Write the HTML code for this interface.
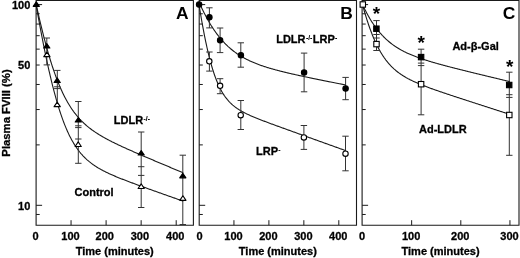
<!DOCTYPE html>
<html><head><meta charset="utf-8"><style>
html,body{margin:0;padding:0;background:#fff;}
body{width:520px;height:258px;overflow:hidden;}
svg{display:block;filter:blur(0.3px);}
.t{font-family:"Liberation Sans", Arial, Helvetica, sans-serif;font-weight:bold;font-size:11px;fill:#000;stroke:#000;stroke-width:0.3px;}
.yl{font-size:11.3px;}
.sup{font-size:6.8px;stroke-width:0.1px;}
.big{font-family:"Liberation Sans", Arial, Helvetica, sans-serif;font-weight:bold;font-size:17.4px;fill:#000;}
.star{font-family:"Liberation Sans", Arial, Helvetica, sans-serif;font-weight:bold;font-size:19px;fill:#000;}
</style></head><body>
<svg width="520" height="258" viewBox="0 0 520 258">
<path d="M36.1,225.2 V0.5 H193.4 V225.2 Z" fill="none" stroke="#1a1a1a" stroke-width="1.1"/>
<line x1="36.1" y1="214.48" x2="39.7" y2="214.48" stroke="#1a1a1a" stroke-width="1"/>
<line x1="36.1" y1="205.30" x2="42.1" y2="205.30" stroke="#1a1a1a" stroke-width="1"/>
<line x1="36.1" y1="144.88" x2="39.7" y2="144.88" stroke="#1a1a1a" stroke-width="1"/>
<line x1="36.1" y1="109.54" x2="39.7" y2="109.54" stroke="#1a1a1a" stroke-width="1"/>
<line x1="36.1" y1="84.47" x2="39.7" y2="84.47" stroke="#1a1a1a" stroke-width="1"/>
<line x1="36.1" y1="65.02" x2="39.7" y2="65.02" stroke="#1a1a1a" stroke-width="1"/>
<line x1="36.1" y1="49.13" x2="39.7" y2="49.13" stroke="#1a1a1a" stroke-width="1"/>
<line x1="36.1" y1="35.69" x2="39.7" y2="35.69" stroke="#1a1a1a" stroke-width="1"/>
<line x1="36.1" y1="24.05" x2="39.7" y2="24.05" stroke="#1a1a1a" stroke-width="1"/>
<line x1="36.1" y1="13.78" x2="39.7" y2="13.78" stroke="#1a1a1a" stroke-width="1"/>
<line x1="36.1" y1="4.60" x2="42.1" y2="4.60" stroke="#1a1a1a" stroke-width="1"/>
<text x="35.50" y="239.7" text-anchor="middle" class="t">0</text>
<line x1="71.05" y1="225.2" x2="71.05" y2="220.2" stroke="#1a1a1a" stroke-width="1"/>
<text x="70.55" y="239.7" text-anchor="middle" class="t">100</text>
<line x1="106.10" y1="225.2" x2="106.10" y2="220.2" stroke="#1a1a1a" stroke-width="1"/>
<text x="104.80" y="239.7" text-anchor="middle" class="t">200</text>
<line x1="141.15" y1="225.2" x2="141.15" y2="220.2" stroke="#1a1a1a" stroke-width="1"/>
<text x="139.85" y="239.7" text-anchor="middle" class="t">300</text>
<line x1="176.20" y1="225.2" x2="176.20" y2="220.2" stroke="#1a1a1a" stroke-width="1"/>
<text x="175.30" y="239.7" text-anchor="middle" class="t">400</text>
<text x="114.75" y="255.2" text-anchor="middle" class="t">Time (minutes)</text>
<text x="182.4" y="18.8" text-anchor="middle" class="big">A</text>
<path d="M199.2,225.2 V0.5 H356.5 V225.2 Z" fill="none" stroke="#1a1a1a" stroke-width="1.1"/>
<line x1="199.2" y1="214.48" x2="202.79999999999998" y2="214.48" stroke="#1a1a1a" stroke-width="1"/>
<line x1="199.2" y1="205.30" x2="205.2" y2="205.30" stroke="#1a1a1a" stroke-width="1"/>
<line x1="199.2" y1="144.88" x2="202.79999999999998" y2="144.88" stroke="#1a1a1a" stroke-width="1"/>
<line x1="199.2" y1="109.54" x2="202.79999999999998" y2="109.54" stroke="#1a1a1a" stroke-width="1"/>
<line x1="199.2" y1="84.47" x2="202.79999999999998" y2="84.47" stroke="#1a1a1a" stroke-width="1"/>
<line x1="199.2" y1="65.02" x2="202.79999999999998" y2="65.02" stroke="#1a1a1a" stroke-width="1"/>
<line x1="199.2" y1="49.13" x2="202.79999999999998" y2="49.13" stroke="#1a1a1a" stroke-width="1"/>
<line x1="199.2" y1="35.69" x2="202.79999999999998" y2="35.69" stroke="#1a1a1a" stroke-width="1"/>
<line x1="199.2" y1="24.05" x2="202.79999999999998" y2="24.05" stroke="#1a1a1a" stroke-width="1"/>
<line x1="199.2" y1="13.78" x2="202.79999999999998" y2="13.78" stroke="#1a1a1a" stroke-width="1"/>
<line x1="199.2" y1="4.60" x2="205.2" y2="4.60" stroke="#1a1a1a" stroke-width="1"/>
<text x="199.50" y="239.7" text-anchor="middle" class="t">0</text>
<line x1="233.95" y1="225.2" x2="233.95" y2="220.2" stroke="#1a1a1a" stroke-width="1"/>
<text x="233.45" y="239.7" text-anchor="middle" class="t">100</text>
<line x1="268.90" y1="225.2" x2="268.90" y2="220.2" stroke="#1a1a1a" stroke-width="1"/>
<text x="268.40" y="239.7" text-anchor="middle" class="t">200</text>
<line x1="303.85" y1="225.2" x2="303.85" y2="220.2" stroke="#1a1a1a" stroke-width="1"/>
<text x="303.35" y="239.7" text-anchor="middle" class="t">300</text>
<line x1="338.80" y1="225.2" x2="338.80" y2="220.2" stroke="#1a1a1a" stroke-width="1"/>
<text x="338.30" y="239.7" text-anchor="middle" class="t">400</text>
<text x="277.85" y="255.2" text-anchor="middle" class="t">Time (minutes)</text>
<text x="346.5" y="18.8" text-anchor="middle" class="big">B</text>
<path d="M362.1,225.2 V0.5 H519 V225.2 Z" fill="none" stroke="#1a1a1a" stroke-width="1.1"/>
<line x1="362.1" y1="214.48" x2="365.70000000000005" y2="214.48" stroke="#1a1a1a" stroke-width="1"/>
<line x1="362.1" y1="205.30" x2="368.1" y2="205.30" stroke="#1a1a1a" stroke-width="1"/>
<line x1="362.1" y1="144.88" x2="365.70000000000005" y2="144.88" stroke="#1a1a1a" stroke-width="1"/>
<line x1="362.1" y1="109.54" x2="365.70000000000005" y2="109.54" stroke="#1a1a1a" stroke-width="1"/>
<line x1="362.1" y1="84.47" x2="365.70000000000005" y2="84.47" stroke="#1a1a1a" stroke-width="1"/>
<line x1="362.1" y1="65.02" x2="365.70000000000005" y2="65.02" stroke="#1a1a1a" stroke-width="1"/>
<line x1="362.1" y1="49.13" x2="365.70000000000005" y2="49.13" stroke="#1a1a1a" stroke-width="1"/>
<line x1="362.1" y1="35.69" x2="365.70000000000005" y2="35.69" stroke="#1a1a1a" stroke-width="1"/>
<line x1="362.1" y1="24.05" x2="365.70000000000005" y2="24.05" stroke="#1a1a1a" stroke-width="1"/>
<line x1="362.1" y1="13.78" x2="365.70000000000005" y2="13.78" stroke="#1a1a1a" stroke-width="1"/>
<line x1="362.1" y1="4.60" x2="368.1" y2="4.60" stroke="#1a1a1a" stroke-width="1"/>
<text x="362.00" y="239.7" text-anchor="middle" class="t">0</text>
<line x1="411.65" y1="225.2" x2="411.65" y2="220.2" stroke="#1a1a1a" stroke-width="1"/>
<text x="411.15" y="239.7" text-anchor="middle" class="t">100</text>
<line x1="460.80" y1="225.2" x2="460.80" y2="220.2" stroke="#1a1a1a" stroke-width="1"/>
<text x="460.30" y="239.7" text-anchor="middle" class="t">200</text>
<line x1="509.95" y1="225.2" x2="509.95" y2="220.2" stroke="#1a1a1a" stroke-width="1"/>
<text x="509.45" y="239.7" text-anchor="middle" class="t">300</text>
<text x="440.55" y="255.2" text-anchor="middle" class="t">Time (minutes)</text>
<text x="509" y="19.1" text-anchor="middle" class="big">C</text>
<path d="M36.00,4.25 L36.62,7.75 L37.23,11.21 L37.85,14.65 L38.46,18.05 L39.08,21.42 L39.70,24.76 L40.31,28.06 L40.93,31.33 L41.54,34.56 L42.16,37.75 L42.78,40.91 L43.39,44.03 L44.01,47.11 L44.62,50.15 L45.24,53.15 L45.86,56.11 L46.47,59.03 L47.09,61.91 L47.70,64.74 L48.32,67.53 L48.93,70.27 L49.55,72.97 L50.17,75.62 L50.78,78.23 L51.40,80.80 L52.01,83.31 L52.63,85.78 L53.25,88.20 L53.86,90.58 L54.48,92.91 L55.09,95.19 L55.71,97.42 L56.33,99.61 L56.94,101.75 L57.56,103.84 L58.17,105.89 L58.79,107.89 L59.41,109.84 L60.02,111.74 L60.64,113.60 L61.25,115.42 L61.87,117.19 L62.49,118.91 L63.10,120.59 L63.72,122.23 L64.33,123.83 L64.95,125.38 L65.57,126.89 L66.18,128.36 L66.80,129.80 L67.41,131.19 L68.03,132.54 L68.64,133.86 L69.26,135.14 L69.88,136.38 L70.49,137.58 L71.11,138.76 L71.72,139.90 L72.34,141.00 L72.96,142.08 L73.57,143.12 L74.19,144.13 L74.80,145.12 L75.42,146.07 L76.04,147.00 L76.65,147.90 L77.27,148.77 L77.88,149.62 L78.50,150.45 L79.12,151.25 L79.73,152.03 L80.35,152.78 L80.96,153.52 L81.58,154.23 L82.20,154.92 L82.81,155.60 L83.43,156.26 L84.04,156.89 L84.66,157.51 L85.28,158.12 L85.89,158.71 L86.51,159.28 L87.12,159.84 L87.74,160.38 L88.36,160.91 L88.97,161.43 L89.59,161.93 L90.20,162.42 L90.82,162.90 L91.43,163.37 L92.05,163.83 L92.67,164.28 L93.28,164.72 L93.90,165.14 L94.51,165.56 L95.13,165.97 L95.75,166.37 L96.36,166.77 L96.98,167.16 L97.59,167.53 L98.21,167.91 L98.83,168.27 L99.44,168.63 L100.06,168.98 L100.67,169.33 L101.29,169.67 L101.91,170.00 L102.52,170.33 L103.14,170.66 L103.75,170.98 L104.37,171.29 L104.99,171.60 L105.60,171.91 L106.22,172.21 L106.83,172.51 L107.45,172.81 L108.07,173.10 L108.68,173.39 L109.30,173.67 L109.91,173.96 L110.53,174.24 L111.14,174.51 L111.76,174.79 L112.38,175.06 L112.99,175.33 L113.61,175.59 L114.22,175.86 L114.84,176.12 L115.46,176.38 L116.07,176.64 L116.69,176.89 L117.30,177.15 L117.92,177.40 L118.54,177.65 L119.15,177.90 L119.77,178.15 L120.38,178.40 L121.00,178.64 L121.62,178.89 L122.23,179.13 L122.85,179.37 L123.46,179.61 L124.08,179.85 L124.70,180.09 L125.31,180.33 L125.93,180.56 L126.54,180.80 L127.16,181.03 L127.78,181.27 L128.39,181.50 L129.01,181.73 L129.62,181.97 L130.24,182.20 L130.85,182.43 L131.47,182.66 L132.09,182.89 L132.70,183.12 L133.32,183.34 L133.93,183.57 L134.55,183.80 L135.17,184.03 L135.78,184.25 L136.40,184.48 L137.01,184.70 L137.63,184.93 L138.25,185.15 L138.86,185.38 L139.48,185.60 L140.09,185.83 L140.71,186.05 L141.33,186.27 L141.94,186.50 L142.56,186.72 L143.17,186.94 L143.79,187.16 L144.41,187.38 L145.02,187.61 L145.64,187.83 L146.25,188.05 L146.87,188.27 L147.49,188.49 L148.10,188.71 L148.72,188.93 L149.33,189.15 L149.95,189.37 L150.57,189.59 L151.18,189.81 L151.80,190.03 L152.41,190.25 L153.03,190.47 L153.64,190.69 L154.26,190.91 L154.88,191.13 L155.49,191.35 L156.11,191.57 L156.72,191.79 L157.34,192.00 L157.96,192.22 L158.57,192.44 L159.19,192.66 L159.80,192.88 L160.42,193.10 L161.04,193.32 L161.65,193.53 L162.27,193.75 L162.88,193.97 L163.50,194.19 L164.12,194.41 L164.73,194.62 L165.35,194.84 L165.96,195.06 L166.58,195.28 L167.20,195.50 L167.81,195.71 L168.43,195.93 L169.04,196.15 L169.66,196.37 L170.28,196.58 L170.89,196.80 L171.51,197.02 L172.12,197.24 L172.74,197.45 L173.35,197.67 L173.97,197.89 L174.59,198.11 L175.20,198.32 L175.82,198.54 L176.43,198.76 L177.05,198.98 L177.67,199.19 L178.28,199.41 L178.90,199.63 L179.51,199.85 L180.13,200.06 L180.75,200.28 L181.36,200.50 L181.98,200.72 L182.59,200.93 L183.21,201.15" fill="none" stroke="#1a1a1a" stroke-width="1.1"/>
<path d="M36.00,3.68 L36.62,6.48 L37.23,9.25 L37.85,11.99 L38.46,14.70 L39.08,17.38 L39.70,20.02 L40.31,22.63 L40.93,25.20 L41.54,27.74 L42.16,30.25 L42.78,32.71 L43.39,35.15 L44.01,37.54 L44.62,39.90 L45.24,42.23 L45.86,44.51 L46.47,46.76 L47.09,48.98 L47.70,51.15 L48.32,53.29 L48.93,55.39 L49.55,57.45 L50.17,59.48 L50.78,61.47 L51.40,63.42 L52.01,65.33 L52.63,67.21 L53.25,69.05 L53.86,70.85 L54.48,72.62 L55.09,74.35 L55.71,76.04 L56.33,77.70 L56.94,79.32 L57.56,80.91 L58.17,82.46 L58.79,83.98 L59.41,85.47 L60.02,86.92 L60.64,88.34 L61.25,89.72 L61.87,91.08 L62.49,92.40 L63.10,93.69 L63.72,94.96 L64.33,96.19 L64.95,97.39 L65.57,98.56 L66.18,99.71 L66.80,100.83 L67.41,101.92 L68.03,102.98 L68.64,104.02 L69.26,105.04 L69.88,106.03 L70.49,106.99 L71.11,107.94 L71.72,108.86 L72.34,109.75 L72.96,110.63 L73.57,111.49 L74.19,112.32 L74.80,113.14 L75.42,113.93 L76.04,114.71 L76.65,115.47 L77.27,116.21 L77.88,116.93 L78.50,117.64 L79.12,118.33 L79.73,119.01 L80.35,119.67 L80.96,120.32 L81.58,120.95 L82.20,121.57 L82.81,122.17 L83.43,122.76 L84.04,123.34 L84.66,123.91 L85.28,124.47 L85.89,125.01 L86.51,125.55 L87.12,126.07 L87.74,126.59 L88.36,127.09 L88.97,127.58 L89.59,128.07 L90.20,128.55 L90.82,129.02 L91.43,129.48 L92.05,129.93 L92.67,130.38 L93.28,130.81 L93.90,131.24 L94.51,131.67 L95.13,132.09 L95.75,132.50 L96.36,132.90 L96.98,133.30 L97.59,133.70 L98.21,134.09 L98.83,134.47 L99.44,134.85 L100.06,135.22 L100.67,135.59 L101.29,135.96 L101.91,136.32 L102.52,136.68 L103.14,137.03 L103.75,137.38 L104.37,137.73 L104.99,138.07 L105.60,138.41 L106.22,138.74 L106.83,139.07 L107.45,139.40 L108.07,139.73 L108.68,140.05 L109.30,140.37 L109.91,140.69 L110.53,141.01 L111.14,141.32 L111.76,141.64 L112.38,141.94 L112.99,142.25 L113.61,142.56 L114.22,142.86 L114.84,143.16 L115.46,143.46 L116.07,143.76 L116.69,144.06 L117.30,144.35 L117.92,144.65 L118.54,144.94 L119.15,145.23 L119.77,145.52 L120.38,145.81 L121.00,146.09 L121.62,146.38 L122.23,146.66 L122.85,146.95 L123.46,147.23 L124.08,147.51 L124.70,147.79 L125.31,148.07 L125.93,148.35 L126.54,148.63 L127.16,148.90 L127.78,149.18 L128.39,149.46 L129.01,149.73 L129.62,150.00 L130.24,150.28 L130.85,150.55 L131.47,150.82 L132.09,151.09 L132.70,151.37 L133.32,151.64 L133.93,151.91 L134.55,152.18 L135.17,152.44 L135.78,152.71 L136.40,152.98 L137.01,153.25 L137.63,153.52 L138.25,153.78 L138.86,154.05 L139.48,154.32 L140.09,154.58 L140.71,154.85 L141.33,155.11 L141.94,155.38 L142.56,155.64 L143.17,155.91 L143.79,156.17 L144.41,156.43 L145.02,156.70 L145.64,156.96 L146.25,157.22 L146.87,157.49 L147.49,157.75 L148.10,158.01 L148.72,158.27 L149.33,158.54 L149.95,158.80 L150.57,159.06 L151.18,159.32 L151.80,159.58 L152.41,159.84 L153.03,160.11 L153.64,160.37 L154.26,160.63 L154.88,160.89 L155.49,161.15 L156.11,161.41 L156.72,161.67 L157.34,161.93 L157.96,162.19 L158.57,162.45 L159.19,162.71 L159.80,162.97 L160.42,163.23 L161.04,163.49 L161.65,163.75 L162.27,164.01 L162.88,164.27 L163.50,164.53 L164.12,164.79 L164.73,165.05 L165.35,165.31 L165.96,165.56 L166.58,165.82 L167.20,166.08 L167.81,166.34 L168.43,166.60 L169.04,166.86 L169.66,167.12 L170.28,167.38 L170.89,167.64 L171.51,167.89 L172.12,168.15 L172.74,168.41 L173.35,168.67 L173.97,168.93 L174.59,169.19 L175.20,169.45 L175.82,169.70 L176.43,169.96 L177.05,170.22 L177.67,170.48 L178.28,170.74 L178.90,171.00 L179.51,171.25 L180.13,171.51 L180.75,171.77 L181.36,172.03 L181.98,172.29 L182.59,172.55 L183.21,172.80" fill="none" stroke="#1a1a1a" stroke-width="1.1"/>
<line x1="46.80" y1="38.00" x2="46.80" y2="64.90" stroke="#333" stroke-width="1"/>
<line x1="43.60" y1="38.00" x2="50.00" y2="38.00" stroke="#333" stroke-width="1"/>
<line x1="43.60" y1="64.90" x2="50.00" y2="64.90" stroke="#333" stroke-width="1"/>
<line x1="57.30" y1="70.40" x2="57.30" y2="104.00" stroke="#333" stroke-width="1"/>
<line x1="54.10" y1="70.40" x2="60.50" y2="70.40" stroke="#333" stroke-width="1"/>
<line x1="54.10" y1="86.80" x2="60.50" y2="86.80" stroke="#333" stroke-width="1"/>
<line x1="54.10" y1="88.60" x2="60.50" y2="88.60" stroke="#333" stroke-width="1"/>
<line x1="78.30" y1="101.50" x2="78.30" y2="163.30" stroke="#333" stroke-width="1"/>
<line x1="75.10" y1="101.50" x2="81.50" y2="101.50" stroke="#333" stroke-width="1"/>
<line x1="75.10" y1="125.80" x2="81.50" y2="125.80" stroke="#333" stroke-width="1"/>
<line x1="75.10" y1="127.60" x2="81.50" y2="127.60" stroke="#333" stroke-width="1"/>
<line x1="75.10" y1="139.00" x2="81.50" y2="139.00" stroke="#333" stroke-width="1"/>
<line x1="75.10" y1="163.30" x2="81.50" y2="163.30" stroke="#333" stroke-width="1"/>
<line x1="141.20" y1="132.00" x2="141.20" y2="207.50" stroke="#333" stroke-width="1"/>
<line x1="138.00" y1="132.00" x2="144.40" y2="132.00" stroke="#333" stroke-width="1"/>
<line x1="138.00" y1="166.70" x2="144.40" y2="166.70" stroke="#333" stroke-width="1"/>
<line x1="138.00" y1="175.40" x2="144.40" y2="175.40" stroke="#333" stroke-width="1"/>
<line x1="138.00" y1="207.50" x2="144.40" y2="207.50" stroke="#333" stroke-width="1"/>
<line x1="182.80" y1="155.20" x2="182.80" y2="224.50" stroke="#333" stroke-width="1"/>
<line x1="179.60" y1="155.20" x2="186.00" y2="155.20" stroke="#333" stroke-width="1"/>
<line x1="179.60" y1="224.50" x2="186.00" y2="224.50" stroke="#333" stroke-width="1"/>
<polygon points="46.90,52.07 50.00,56.67 43.80,56.67" fill="#fff" stroke="#000" stroke-width="1.1" stroke-linejoin="round"/>
<polygon points="57.20,102.07 60.30,106.67 54.10,106.67" fill="#fff" stroke="#000" stroke-width="1.1" stroke-linejoin="round"/>
<polygon points="78.20,141.87 81.30,146.47 75.10,146.47" fill="#fff" stroke="#000" stroke-width="1.1" stroke-linejoin="round"/>
<polygon points="141.20,183.87 144.30,188.47 138.10,188.47" fill="#fff" stroke="#000" stroke-width="1.1" stroke-linejoin="round"/>
<polygon points="182.90,195.77 186.00,200.37 179.80,200.37" fill="#fff" stroke="#000" stroke-width="1.1" stroke-linejoin="round"/>
<polygon points="36.30,1.77 39.40,6.37 33.20,6.37" fill="#000" stroke="#000" stroke-width="1.1" stroke-linejoin="round"/>
<polygon points="46.80,43.47 49.90,48.07 43.70,48.07" fill="#000" stroke="#000" stroke-width="1.1" stroke-linejoin="round"/>
<polygon points="57.20,77.87 60.30,82.47 54.10,82.47" fill="#000" stroke="#000" stroke-width="1.1" stroke-linejoin="round"/>
<polygon points="78.30,117.47 81.40,122.07 75.20,122.07" fill="#000" stroke="#000" stroke-width="1.1" stroke-linejoin="round"/>
<polygon points="141.20,150.47 144.30,155.07 138.10,155.07" fill="#000" stroke="#000" stroke-width="1.1" stroke-linejoin="round"/>
<polygon points="182.80,173.27 185.90,177.87 179.70,177.87" fill="#000" stroke="#000" stroke-width="1.1" stroke-linejoin="round"/>
<path d="M199.00,4.48 L199.61,8.29 L200.23,12.03 L200.84,15.68 L201.46,19.25 L202.07,22.73 L202.69,26.13 L203.30,29.44 L203.91,32.67 L204.53,35.81 L205.14,38.86 L205.76,41.83 L206.37,44.71 L206.98,47.50 L207.60,50.20 L208.21,52.82 L208.83,55.35 L209.44,57.80 L210.06,60.17 L210.67,62.45 L211.28,64.65 L211.90,66.77 L212.51,68.81 L213.13,70.78 L213.74,72.67 L214.35,74.49 L214.97,76.24 L215.58,77.91 L216.20,79.53 L216.81,81.07 L217.43,82.56 L218.04,83.98 L218.65,85.34 L219.27,86.65 L219.88,87.91 L220.50,89.11 L221.11,90.26 L221.72,91.36 L222.34,92.42 L222.95,93.44 L223.57,94.41 L224.18,95.34 L224.80,96.23 L225.41,97.09 L226.02,97.91 L226.64,98.70 L227.25,99.46 L227.87,100.18 L228.48,100.88 L229.10,101.56 L229.71,102.20 L230.32,102.82 L230.94,103.42 L231.55,104.00 L232.17,104.56 L232.78,105.10 L233.39,105.61 L234.01,106.12 L234.62,106.60 L235.24,107.07 L235.85,107.53 L236.47,107.97 L237.08,108.40 L237.69,108.81 L238.31,109.22 L238.92,109.61 L239.54,109.99 L240.15,110.37 L240.76,110.73 L241.38,111.08 L241.99,111.43 L242.61,111.77 L243.22,112.10 L243.84,112.43 L244.45,112.75 L245.06,113.06 L245.68,113.37 L246.29,113.67 L246.91,113.97 L247.52,114.27 L248.13,114.55 L248.75,114.84 L249.36,115.12 L249.98,115.40 L250.59,115.67 L251.21,115.94 L251.82,116.21 L252.43,116.47 L253.05,116.73 L253.66,116.99 L254.28,117.25 L254.89,117.50 L255.50,117.76 L256.12,118.01 L256.73,118.26 L257.35,118.50 L257.96,118.75 L258.58,118.99 L259.19,119.24 L259.80,119.48 L260.42,119.72 L261.03,119.96 L261.65,120.19 L262.26,120.43 L262.88,120.66 L263.49,120.90 L264.10,121.13 L264.72,121.37 L265.33,121.60 L265.95,121.83 L266.56,122.06 L267.17,122.29 L267.79,122.52 L268.40,122.75 L269.02,122.98 L269.63,123.21 L270.25,123.43 L270.86,123.66 L271.47,123.89 L272.09,124.11 L272.70,124.34 L273.32,124.57 L273.93,124.79 L274.54,125.02 L275.16,125.24 L275.77,125.46 L276.39,125.69 L277.00,125.91 L277.62,126.14 L278.23,126.36 L278.84,126.58 L279.46,126.81 L280.07,127.03 L280.69,127.25 L281.30,127.48 L281.91,127.70 L282.53,127.92 L283.14,128.14 L283.76,128.37 L284.37,128.59 L284.99,128.81 L285.60,129.03 L286.21,129.25 L286.83,129.48 L287.44,129.70 L288.06,129.92 L288.67,130.14 L289.29,130.36 L289.90,130.58 L290.51,130.80 L291.13,131.03 L291.74,131.25 L292.36,131.47 L292.97,131.69 L293.58,131.91 L294.20,132.13 L294.81,132.35 L295.43,132.57 L296.04,132.80 L296.66,133.02 L297.27,133.24 L297.88,133.46 L298.50,133.68 L299.11,133.90 L299.73,134.12 L300.34,134.34 L300.95,134.56 L301.57,134.78 L302.18,135.00 L302.80,135.22 L303.41,135.45 L304.03,135.67 L304.64,135.89 L305.25,136.11 L305.87,136.33 L306.48,136.55 L307.10,136.77 L307.71,136.99 L308.32,137.21 L308.94,137.43 L309.55,137.65 L310.17,137.87 L310.78,138.09 L311.40,138.31 L312.01,138.53 L312.62,138.76 L313.24,138.98 L313.85,139.20 L314.47,139.42 L315.08,139.64 L315.69,139.86 L316.31,140.08 L316.92,140.30 L317.54,140.52 L318.15,140.74 L318.77,140.96 L319.38,141.18 L319.99,141.40 L320.61,141.62 L321.22,141.84 L321.84,142.06 L322.45,142.28 L323.07,142.50 L323.68,142.73 L324.29,142.95 L324.91,143.17 L325.52,143.39 L326.14,143.61 L326.75,143.83 L327.36,144.05 L327.98,144.27 L328.59,144.49 L329.21,144.71 L329.82,144.93 L330.44,145.15 L331.05,145.37 L331.66,145.59 L332.28,145.81 L332.89,146.03 L333.51,146.25 L334.12,146.47 L334.73,146.69 L335.35,146.92 L335.96,147.14 L336.58,147.36 L337.19,147.58 L337.81,147.80 L338.42,148.02 L339.03,148.24 L339.65,148.46 L340.26,148.68 L340.88,148.90 L341.49,149.12 L342.10,149.34 L342.72,149.56 L343.33,149.78 L343.95,150.00 L344.56,150.22 L345.18,150.44 L345.79,150.66" fill="none" stroke="#1a1a1a" stroke-width="1.1"/>
<path d="M199.00,2.00 L199.61,3.38 L200.23,4.74 L200.84,6.08 L201.46,7.39 L202.07,8.69 L202.69,9.96 L203.30,11.22 L203.91,12.45 L204.53,13.66 L205.14,14.85 L205.76,16.03 L206.37,17.18 L206.98,18.31 L207.60,19.42 L208.21,20.51 L208.83,21.58 L209.44,22.63 L210.06,23.66 L210.67,24.68 L211.28,25.67 L211.90,26.65 L212.51,27.61 L213.13,28.55 L213.74,29.47 L214.35,30.37 L214.97,31.26 L215.58,32.13 L216.20,32.98 L216.81,33.82 L217.43,34.64 L218.04,35.44 L218.65,36.23 L219.27,37.00 L219.88,37.75 L220.50,38.49 L221.11,39.22 L221.72,39.93 L222.34,40.63 L222.95,41.31 L223.57,41.98 L224.18,42.63 L224.80,43.27 L225.41,43.90 L226.02,44.52 L226.64,45.12 L227.25,45.71 L227.87,46.29 L228.48,46.86 L229.10,47.41 L229.71,47.95 L230.32,48.49 L230.94,49.01 L231.55,49.52 L232.17,50.02 L232.78,50.51 L233.39,50.99 L234.01,51.46 L234.62,51.92 L235.24,52.37 L235.85,52.82 L236.47,53.25 L237.08,53.68 L237.69,54.09 L238.31,54.50 L238.92,54.90 L239.54,55.29 L240.15,55.68 L240.76,56.06 L241.38,56.43 L241.99,56.79 L242.61,57.15 L243.22,57.50 L243.84,57.84 L244.45,58.18 L245.06,58.51 L245.68,58.83 L246.29,59.15 L246.91,59.46 L247.52,59.77 L248.13,60.07 L248.75,60.37 L249.36,60.66 L249.98,60.95 L250.59,61.23 L251.21,61.51 L251.82,61.78 L252.43,62.05 L253.05,62.31 L253.66,62.57 L254.28,62.83 L254.89,63.08 L255.50,63.33 L256.12,63.57 L256.73,63.81 L257.35,64.05 L257.96,64.28 L258.58,64.51 L259.19,64.74 L259.80,64.96 L260.42,65.18 L261.03,65.40 L261.65,65.61 L262.26,65.82 L262.88,66.03 L263.49,66.24 L264.10,66.44 L264.72,66.64 L265.33,66.84 L265.95,67.04 L266.56,67.23 L267.17,67.42 L267.79,67.61 L268.40,67.80 L269.02,67.98 L269.63,68.17 L270.25,68.35 L270.86,68.53 L271.47,68.71 L272.09,68.88 L272.70,69.06 L273.32,69.23 L273.93,69.40 L274.54,69.57 L275.16,69.74 L275.77,69.91 L276.39,70.07 L277.00,70.23 L277.62,70.40 L278.23,70.56 L278.84,70.72 L279.46,70.88 L280.07,71.03 L280.69,71.19 L281.30,71.35 L281.91,71.50 L282.53,71.65 L283.14,71.80 L283.76,71.96 L284.37,72.11 L284.99,72.25 L285.60,72.40 L286.21,72.55 L286.83,72.70 L287.44,72.84 L288.06,72.99 L288.67,73.13 L289.29,73.28 L289.90,73.42 L290.51,73.56 L291.13,73.70 L291.74,73.84 L292.36,73.98 L292.97,74.12 L293.58,74.26 L294.20,74.40 L294.81,74.54 L295.43,74.67 L296.04,74.81 L296.66,74.95 L297.27,75.08 L297.88,75.22 L298.50,75.35 L299.11,75.49 L299.73,75.62 L300.34,75.75 L300.95,75.89 L301.57,76.02 L302.18,76.15 L302.80,76.28 L303.41,76.41 L304.03,76.54 L304.64,76.68 L305.25,76.81 L305.87,76.94 L306.48,77.07 L307.10,77.19 L307.71,77.32 L308.32,77.45 L308.94,77.58 L309.55,77.71 L310.17,77.84 L310.78,77.97 L311.40,78.09 L312.01,78.22 L312.62,78.35 L313.24,78.47 L313.85,78.60 L314.47,78.73 L315.08,78.85 L315.69,78.98 L316.31,79.11 L316.92,79.23 L317.54,79.36 L318.15,79.48 L318.77,79.61 L319.38,79.73 L319.99,79.86 L320.61,79.98 L321.22,80.11 L321.84,80.23 L322.45,80.35 L323.07,80.48 L323.68,80.60 L324.29,80.73 L324.91,80.85 L325.52,80.97 L326.14,81.10 L326.75,81.22 L327.36,81.34 L327.98,81.47 L328.59,81.59 L329.21,81.71 L329.82,81.84 L330.44,81.96 L331.05,82.08 L331.66,82.20 L332.28,82.33 L332.89,82.45 L333.51,82.57 L334.12,82.69 L334.73,82.82 L335.35,82.94 L335.96,83.06 L336.58,83.18 L337.19,83.30 L337.81,83.43 L338.42,83.55 L339.03,83.67 L339.65,83.79 L340.26,83.91 L340.88,84.03 L341.49,84.16 L342.10,84.28 L342.72,84.40 L343.33,84.52 L343.95,84.64 L344.56,84.76 L345.18,84.88 L345.79,85.00" fill="none" stroke="#1a1a1a" stroke-width="1.1"/>
<line x1="209.40" y1="52.00" x2="209.40" y2="71.10" stroke="#333" stroke-width="1"/>
<line x1="206.20" y1="52.00" x2="212.60" y2="52.00" stroke="#333" stroke-width="1"/>
<line x1="206.20" y1="71.10" x2="212.60" y2="71.10" stroke="#333" stroke-width="1"/>
<line x1="220.10" y1="78.70" x2="220.10" y2="93.70" stroke="#333" stroke-width="1"/>
<line x1="216.90" y1="78.70" x2="223.30" y2="78.70" stroke="#333" stroke-width="1"/>
<line x1="216.90" y1="93.70" x2="223.30" y2="93.70" stroke="#333" stroke-width="1"/>
<line x1="240.80" y1="100.50" x2="240.80" y2="129.50" stroke="#333" stroke-width="1"/>
<line x1="237.60" y1="100.50" x2="244.00" y2="100.50" stroke="#333" stroke-width="1"/>
<line x1="237.60" y1="129.50" x2="244.00" y2="129.50" stroke="#333" stroke-width="1"/>
<line x1="303.90" y1="125.50" x2="303.90" y2="149.40" stroke="#333" stroke-width="1"/>
<line x1="300.70" y1="125.50" x2="307.10" y2="125.50" stroke="#333" stroke-width="1"/>
<line x1="300.70" y1="149.40" x2="307.10" y2="149.40" stroke="#333" stroke-width="1"/>
<line x1="345.50" y1="136.20" x2="345.50" y2="170.80" stroke="#333" stroke-width="1"/>
<line x1="342.30" y1="136.20" x2="348.70" y2="136.20" stroke="#333" stroke-width="1"/>
<line x1="342.30" y1="170.80" x2="348.70" y2="170.80" stroke="#333" stroke-width="1"/>
<line x1="209.40" y1="7.80" x2="209.40" y2="27.90" stroke="#333" stroke-width="1"/>
<line x1="206.20" y1="7.80" x2="212.60" y2="7.80" stroke="#333" stroke-width="1"/>
<line x1="206.20" y1="27.90" x2="212.60" y2="27.90" stroke="#333" stroke-width="1"/>
<line x1="220.10" y1="28.00" x2="220.10" y2="52.60" stroke="#333" stroke-width="1"/>
<line x1="216.90" y1="28.00" x2="223.30" y2="28.00" stroke="#333" stroke-width="1"/>
<line x1="216.90" y1="52.60" x2="223.30" y2="52.60" stroke="#333" stroke-width="1"/>
<line x1="240.80" y1="42.80" x2="240.80" y2="67.20" stroke="#333" stroke-width="1"/>
<line x1="237.60" y1="42.80" x2="244.00" y2="42.80" stroke="#333" stroke-width="1"/>
<line x1="237.60" y1="67.20" x2="244.00" y2="67.20" stroke="#333" stroke-width="1"/>
<line x1="304.10" y1="53.10" x2="304.10" y2="91.80" stroke="#333" stroke-width="1"/>
<line x1="300.90" y1="53.10" x2="307.30" y2="53.10" stroke="#333" stroke-width="1"/>
<line x1="300.90" y1="91.80" x2="307.30" y2="91.80" stroke="#333" stroke-width="1"/>
<line x1="345.60" y1="77.40" x2="345.60" y2="99.70" stroke="#333" stroke-width="1"/>
<line x1="342.40" y1="77.40" x2="348.80" y2="77.40" stroke="#333" stroke-width="1"/>
<line x1="342.40" y1="99.70" x2="348.80" y2="99.70" stroke="#333" stroke-width="1"/>
<circle cx="209.30" cy="61.30" r="2.7" fill="#fff" stroke="#000" stroke-width="1.1"/>
<circle cx="220.10" cy="85.80" r="2.7" fill="#fff" stroke="#000" stroke-width="1.1"/>
<circle cx="240.70" cy="115.20" r="2.7" fill="#fff" stroke="#000" stroke-width="1.1"/>
<circle cx="303.90" cy="137.40" r="2.7" fill="#fff" stroke="#000" stroke-width="1.1"/>
<circle cx="345.50" cy="153.70" r="2.7" fill="#fff" stroke="#000" stroke-width="1.1"/>
<circle cx="199.10" cy="4.50" r="2.7" fill="#000" stroke="#000" stroke-width="1.1"/>
<circle cx="209.40" cy="17.30" r="2.7" fill="#000" stroke="#000" stroke-width="1.1"/>
<circle cx="220.10" cy="40.30" r="2.7" fill="#000" stroke="#000" stroke-width="1.1"/>
<circle cx="240.90" cy="55.20" r="2.7" fill="#000" stroke="#000" stroke-width="1.1"/>
<circle cx="304.10" cy="72.40" r="2.7" fill="#000" stroke="#000" stroke-width="1.1"/>
<circle cx="345.60" cy="88.50" r="2.7" fill="#000" stroke="#000" stroke-width="1.1"/>
<path d="M362.50,4.70 L363.12,6.93 L363.73,9.12 L364.35,11.26 L364.97,13.35 L365.58,15.40 L366.20,17.40 L366.82,19.36 L367.44,21.27 L368.05,23.13 L368.67,24.95 L369.29,26.73 L369.90,28.46 L370.52,30.14 L371.14,31.79 L371.75,33.39 L372.37,34.95 L372.99,36.46 L373.61,37.94 L374.22,39.38 L374.84,40.77 L375.46,42.13 L376.07,43.45 L376.69,44.73 L377.31,45.98 L377.92,47.19 L378.54,48.37 L379.16,49.51 L379.77,50.62 L380.39,51.70 L381.01,52.74 L381.63,53.76 L382.24,54.74 L382.86,55.70 L383.48,56.63 L384.09,57.53 L384.71,58.40 L385.33,59.25 L385.94,60.08 L386.56,60.88 L387.18,61.65 L387.79,62.41 L388.41,63.14 L389.03,63.85 L389.65,64.54 L390.26,65.21 L390.88,65.87 L391.50,66.50 L392.11,67.12 L392.73,67.72 L393.35,68.30 L393.96,68.87 L394.58,69.42 L395.20,69.95 L395.82,70.48 L396.43,70.99 L397.05,71.48 L397.67,71.97 L398.28,72.44 L398.90,72.90 L399.52,73.35 L400.13,73.79 L400.75,74.22 L401.37,74.64 L401.98,75.04 L402.60,75.44 L403.22,75.84 L403.84,76.22 L404.45,76.59 L405.07,76.96 L405.69,77.32 L406.30,77.68 L406.92,78.02 L407.54,78.36 L408.15,78.70 L408.77,79.02 L409.39,79.35 L410.00,79.66 L410.62,79.97 L411.24,80.28 L411.86,80.58 L412.47,80.88 L413.09,81.17 L413.71,81.46 L414.32,81.75 L414.94,82.03 L415.56,82.31 L416.17,82.58 L416.79,82.85 L417.41,83.12 L418.03,83.38 L418.64,83.64 L419.26,83.90 L419.88,84.16 L420.49,84.41 L421.11,84.66 L421.73,84.91 L422.34,85.16 L422.96,85.40 L423.58,85.64 L424.19,85.88 L424.81,86.12 L425.43,86.36 L426.05,86.59 L426.66,86.83 L427.28,87.06 L427.90,87.29 L428.51,87.52 L429.13,87.75 L429.75,87.97 L430.36,88.20 L430.98,88.42 L431.60,88.64 L432.21,88.86 L432.83,89.09 L433.45,89.30 L434.07,89.52 L434.68,89.74 L435.30,89.96 L435.92,90.17 L436.53,90.39 L437.15,90.60 L437.77,90.82 L438.38,91.03 L439.00,91.24 L439.62,91.46 L440.24,91.67 L440.85,91.88 L441.47,92.09 L442.09,92.30 L442.70,92.51 L443.32,92.72 L443.94,92.92 L444.55,93.13 L445.17,93.34 L445.79,93.55 L446.40,93.75 L447.02,93.96 L447.64,94.17 L448.26,94.37 L448.87,94.58 L449.49,94.78 L450.11,94.99 L450.72,95.19 L451.34,95.40 L451.96,95.60 L452.57,95.80 L453.19,96.01 L453.81,96.21 L454.42,96.41 L455.04,96.62 L455.66,96.82 L456.28,97.02 L456.89,97.23 L457.51,97.43 L458.13,97.63 L458.74,97.83 L459.36,98.03 L459.98,98.23 L460.59,98.44 L461.21,98.64 L461.83,98.84 L462.45,99.04 L463.06,99.24 L463.68,99.44 L464.30,99.64 L464.91,99.84 L465.53,100.05 L466.15,100.25 L466.76,100.45 L467.38,100.65 L468.00,100.85 L468.61,101.05 L469.23,101.25 L469.85,101.45 L470.47,101.65 L471.08,101.85 L471.70,102.05 L472.32,102.25 L472.93,102.45 L473.55,102.65 L474.17,102.85 L474.78,103.05 L475.40,103.25 L476.02,103.45 L476.63,103.65 L477.25,103.85 L477.87,104.05 L478.49,104.25 L479.10,104.44 L479.72,104.64 L480.34,104.84 L480.95,105.04 L481.57,105.24 L482.19,105.44 L482.80,105.64 L483.42,105.84 L484.04,106.04 L484.66,106.24 L485.27,106.44 L485.89,106.64 L486.51,106.84 L487.12,107.04 L487.74,107.24 L488.36,107.43 L488.97,107.63 L489.59,107.83 L490.21,108.03 L490.82,108.23 L491.44,108.43 L492.06,108.63 L492.68,108.83 L493.29,109.03 L493.91,109.23 L494.53,109.43 L495.14,109.62 L495.76,109.82 L496.38,110.02 L496.99,110.22 L497.61,110.42 L498.23,110.62 L498.84,110.82 L499.46,111.02 L500.08,111.22 L500.70,111.42 L501.31,111.61 L501.93,111.81 L502.55,112.01 L503.16,112.21 L503.78,112.41 L504.40,112.61 L505.01,112.81 L505.63,113.01 L506.25,113.21 L506.87,113.41 L507.48,113.60 L508.10,113.80 L508.72,114.00 L509.33,114.20 L509.95,114.40" fill="none" stroke="#1a1a1a" stroke-width="1.1"/>
<path d="M362.50,4.57 L363.12,5.88 L363.73,7.17 L364.35,8.43 L364.97,9.66 L365.58,10.87 L366.20,12.05 L366.82,13.22 L367.44,14.35 L368.05,15.47 L368.67,16.56 L369.29,17.62 L369.90,18.67 L370.52,19.69 L371.14,20.69 L371.75,21.67 L372.37,22.63 L372.99,23.56 L373.61,24.48 L374.22,25.37 L374.84,26.25 L375.46,27.10 L376.07,27.94 L376.69,28.76 L377.31,29.56 L377.92,30.34 L378.54,31.11 L379.16,31.85 L379.77,32.58 L380.39,33.30 L381.01,33.99 L381.63,34.67 L382.24,35.34 L382.86,35.99 L383.48,36.63 L384.09,37.25 L384.71,37.86 L385.33,38.45 L385.94,39.03 L386.56,39.60 L387.18,40.16 L387.79,40.70 L388.41,41.23 L389.03,41.75 L389.65,42.26 L390.26,42.75 L390.88,43.24 L391.50,43.71 L392.11,44.18 L392.73,44.63 L393.35,45.08 L393.96,45.51 L394.58,45.94 L395.20,46.36 L395.82,46.77 L396.43,47.17 L397.05,47.56 L397.67,47.95 L398.28,48.33 L398.90,48.70 L399.52,49.06 L400.13,49.41 L400.75,49.76 L401.37,50.11 L401.98,50.44 L402.60,50.77 L403.22,51.10 L403.84,51.41 L404.45,51.73 L405.07,52.03 L405.69,52.34 L406.30,52.63 L406.92,52.92 L407.54,53.21 L408.15,53.49 L408.77,53.77 L409.39,54.04 L410.00,54.31 L410.62,54.58 L411.24,54.84 L411.86,55.10 L412.47,55.35 L413.09,55.60 L413.71,55.85 L414.32,56.09 L414.94,56.33 L415.56,56.57 L416.17,56.80 L416.79,57.04 L417.41,57.26 L418.03,57.49 L418.64,57.71 L419.26,57.93 L419.88,58.15 L420.49,58.37 L421.11,58.58 L421.73,58.79 L422.34,59.00 L422.96,59.20 L423.58,59.41 L424.19,59.61 L424.81,59.81 L425.43,60.01 L426.05,60.21 L426.66,60.40 L427.28,60.60 L427.90,60.79 L428.51,60.98 L429.13,61.17 L429.75,61.36 L430.36,61.55 L430.98,61.73 L431.60,61.91 L432.21,62.10 L432.83,62.28 L433.45,62.46 L434.07,62.64 L434.68,62.82 L435.30,62.99 L435.92,63.17 L436.53,63.34 L437.15,63.52 L437.77,63.69 L438.38,63.86 L439.00,64.03 L439.62,64.20 L440.24,64.37 L440.85,64.54 L441.47,64.71 L442.09,64.88 L442.70,65.05 L443.32,65.21 L443.94,65.38 L444.55,65.54 L445.17,65.71 L445.79,65.87 L446.40,66.03 L447.02,66.20 L447.64,66.36 L448.26,66.52 L448.87,66.68 L449.49,66.84 L450.11,67.00 L450.72,67.16 L451.34,67.32 L451.96,67.48 L452.57,67.64 L453.19,67.80 L453.81,67.95 L454.42,68.11 L455.04,68.27 L455.66,68.42 L456.28,68.58 L456.89,68.74 L457.51,68.89 L458.13,69.05 L458.74,69.20 L459.36,69.36 L459.98,69.51 L460.59,69.67 L461.21,69.82 L461.83,69.98 L462.45,70.13 L463.06,70.28 L463.68,70.44 L464.30,70.59 L464.91,70.74 L465.53,70.90 L466.15,71.05 L466.76,71.20 L467.38,71.35 L468.00,71.50 L468.61,71.66 L469.23,71.81 L469.85,71.96 L470.47,72.11 L471.08,72.26 L471.70,72.41 L472.32,72.56 L472.93,72.72 L473.55,72.87 L474.17,73.02 L474.78,73.17 L475.40,73.32 L476.02,73.47 L476.63,73.62 L477.25,73.77 L477.87,73.92 L478.49,74.07 L479.10,74.22 L479.72,74.37 L480.34,74.52 L480.95,74.67 L481.57,74.82 L482.19,74.97 L482.80,75.12 L483.42,75.27 L484.04,75.41 L484.66,75.56 L485.27,75.71 L485.89,75.86 L486.51,76.01 L487.12,76.16 L487.74,76.31 L488.36,76.46 L488.97,76.61 L489.59,76.76 L490.21,76.90 L490.82,77.05 L491.44,77.20 L492.06,77.35 L492.68,77.50 L493.29,77.65 L493.91,77.80 L494.53,77.94 L495.14,78.09 L495.76,78.24 L496.38,78.39 L496.99,78.54 L497.61,78.69 L498.23,78.83 L498.84,78.98 L499.46,79.13 L500.08,79.28 L500.70,79.43 L501.31,79.58 L501.93,79.72 L502.55,79.87 L503.16,80.02 L503.78,80.17 L504.40,80.32 L505.01,80.46 L505.63,80.61 L506.25,80.76 L506.87,80.91 L507.48,81.06 L508.10,81.20 L508.72,81.35 L509.33,81.50 L509.95,81.65" fill="none" stroke="#1a1a1a" stroke-width="1.1"/>
<line x1="376.50" y1="20.60" x2="376.50" y2="50.50" stroke="#333" stroke-width="1"/>
<line x1="373.30" y1="20.60" x2="379.70" y2="20.60" stroke="#333" stroke-width="1"/>
<line x1="373.30" y1="34.50" x2="379.70" y2="34.50" stroke="#333" stroke-width="1"/>
<line x1="373.30" y1="38.00" x2="379.70" y2="38.00" stroke="#333" stroke-width="1"/>
<line x1="373.30" y1="50.50" x2="379.70" y2="50.50" stroke="#333" stroke-width="1"/>
<line x1="421.10" y1="49.20" x2="421.10" y2="114.80" stroke="#333" stroke-width="1"/>
<line x1="417.90" y1="49.20" x2="424.30" y2="49.20" stroke="#333" stroke-width="1"/>
<line x1="417.90" y1="63.10" x2="424.30" y2="63.10" stroke="#333" stroke-width="1"/>
<line x1="417.90" y1="65.60" x2="424.30" y2="65.60" stroke="#333" stroke-width="1"/>
<line x1="417.90" y1="114.80" x2="424.30" y2="114.80" stroke="#333" stroke-width="1"/>
<line x1="509.30" y1="72.20" x2="509.30" y2="155.30" stroke="#333" stroke-width="1"/>
<line x1="506.10" y1="72.20" x2="512.50" y2="72.20" stroke="#333" stroke-width="1"/>
<line x1="506.10" y1="94.70" x2="512.50" y2="94.70" stroke="#333" stroke-width="1"/>
<line x1="506.10" y1="97.40" x2="512.50" y2="97.40" stroke="#333" stroke-width="1"/>
<line x1="506.10" y1="155.30" x2="512.50" y2="155.30" stroke="#333" stroke-width="1"/>
<rect x="360.10" y="1.80" width="5.4" height="5.4" fill="#fff" stroke="#000" stroke-width="1.1"/>
<rect x="373.80" y="41.40" width="5.4" height="5.4" fill="#fff" stroke="#000" stroke-width="1.1"/>
<rect x="418.40" y="81.50" width="5.4" height="5.4" fill="#fff" stroke="#000" stroke-width="1.1"/>
<rect x="506.60" y="112.30" width="5.4" height="5.4" fill="#fff" stroke="#000" stroke-width="1.1"/>
<rect x="373.70" y="26.00" width="5.4" height="5.4" fill="#000" stroke="#000" stroke-width="1.1"/>
<rect x="418.40" y="54.40" width="5.4" height="5.4" fill="#000" stroke="#000" stroke-width="1.1"/>
<rect x="506.50" y="82.30" width="5.4" height="5.4" fill="#000" stroke="#000" stroke-width="1.1"/>
<text x="113.8" y="124" class="t">LDLR<tspan class="sup" dx="0.4" dy="-2.6">-/-</tspan></text>
<text x="74.5" y="195.6" class="t">Control</text>
<text x="276.2" y="42.7" class="t">LDLR<tspan class="sup" dx="0.4" dy="-2.6">-/-</tspan><tspan dx="0.4" dy="2.6">LRP</tspan><tspan class="sup" dx="0.2" dy="-2.8">-</tspan></text>
<text x="256.1" y="154.8" class="t">LRP<tspan class="sup" dx="0.2" dy="-2.8">-</tspan></text>
<text x="452.4" y="50.2" class="t">Ad-β-Gal</text>
<text x="419" y="132.9" class="t">Ad-LDLR</text>
<text x="376.5" y="20.40" text-anchor="middle" class="star">*</text>
<text x="421.3" y="48.60" text-anchor="middle" class="star">*</text>
<text x="509.8" y="72.70" text-anchor="middle" class="star">*</text>
<text x="30.3" y="8.60" text-anchor="end" class="t">100</text>
<text x="30.3" y="68.90" text-anchor="end" class="t">50</text>
<text x="30.3" y="209.70" text-anchor="end" class="t">10</text>
<text transform="translate(9.7,113) rotate(-90)" text-anchor="middle" class="t yl">Plasma FVIII (%)</text>
</svg>
</body></html>
